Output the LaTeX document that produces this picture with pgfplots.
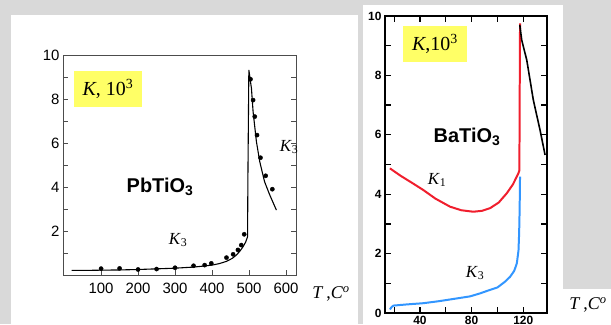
\documentclass[border=0pt]{standalone}
\usepackage{pgfplots}
\pgfplotsset{compat=1.18}
\usepackage{fontspec}
\setmainfont{Liberation Serif}
\setsansfont{Liberation Sans}
\definecolor{bg}{RGB}{217,217,217}
\definecolor{ylw}{RGB}{255,255,102}
\definecolor{kred}{RGB}{240,30,45}
\definecolor{kblue}{RGB}{50,150,255}
\newcommand{\TC}{\textit{T}\,,\textit{C}\textsuperscript{\textit{o}}}
\begin{document}
\begin{tikzpicture}[x=1bp,y=1bp]
\useasboundingbox (0,0) rectangle (611,324);
\clip (0,0) rectangle (611,324);
\fill[bg] (0,0) rectangle (611,324);
\fill[white] (11,0) rectangle (358,309);
\fill[white] (363,0) rectangle (563,319);
\fill[white] (557,0) rectangle (611,35);

% ---------- left panel: PbTiO3 ----------
\begin{axis}[at={(63bp,49bp)}, anchor=south west, scale only axis,
  width=233bp, height=220bp,
  xmin=-3, xmax=627, ymin=0, ymax=10,
  axis line style={line width=0.7pt, black!70},
  tick align=inside, xtick pos=left, ytick pos=both,
  xtick={100,200,300,400,500,600}, xticklabels={100,200,300,400,500,600},
  ytick={2,4,6,8,10}, yticklabels={2,4,6,8,10},
  minor ytick={1,3,5,7,9},
  major tick length=5bp, minor tick length=5bp,
  every tick/.style={black!70, line width=0.6pt},
  xticklabel style={font=\sffamily\fontsize{15}{15}\selectfont, yshift=-5bp},
  yticklabel style={font=\sffamily\fontsize{15}{15}\selectfont},
  clip=false]
\addplot[black, line width=1.1pt] coordinates {
(20,0.21) (60,0.21) (100,0.22) (150,0.23) (200,0.25) (250,0.28) (300,0.31)
(350,0.36) (380,0.41) (403,0.46) (420,0.52) (439,0.62) (455,0.76) (466,0.91)
(476,1.1) (484,1.29) (491,1.5) (496,1.74) (497,4.5) (499.5,9.32)
(506.5,8.49) (511,7.42) (520,6.06) (529,5.15) (542,4.24) (556,3.64) (574,2.95)};
\addplot[only marks, mark=*, mark size=2.1bp, black] coordinates {
(100,0.29) (150,0.3) (200,0.25) (250,0.27) (300,0.33) (350,0.42) (380,0.45)
(398,0.53) (439,0.79) (457,0.94) (470,1.14) (479,1.36) (487,1.85)
(504,8.9) (511,7.95) (515.5,7.2) (521.6,6.36) (531,5.33) (545,4.51) (563,3.9)};
\end{axis}
\node[fill=ylw, minimum width=68bp, minimum height=36bp, inner sep=0pt,
  font=\fontsize{20}{20}\selectfont] at (108,235) {\textit{K}, 10\textsuperscript{3}};
\node[font=\sffamily\bfseries\fontsize{20}{20}\selectfont] at (160,137) {PbTiO\textsubscript{3}};
\node[font=\fontsize{17}{17}\selectfont] at (178,84) {\textit{K}\textsubscript{3}};
\node[font=\fontsize{17}{17}\selectfont] at (289,177) {\textit{K}\textsubscript{3}};
\node[font=\fontsize{18}{18}\selectfont] at (331,30) {\TC};

% ---------- right panel: BaTiO3 ----------
\fill[white] (363,0) rectangle (563,319);
\begin{axis}[at={(385bp,11bp)}, anchor=south west, scale only axis,
  width=162bp, height=297bp,
  xmin=12.9, xmax=138.4, ymin=0, ymax=10,
  axis line style={line width=1.4pt, black},
  tick align=inside, xtick pos=both, ytick pos=both,
  xtick={20,40,60,80,100,120}, xticklabels={,40,,80,,120},
  ytick={0,2,4,6,8,10}, yticklabels={0,2,4,6,8,10},
  minor ytick={1,3,5,7,9},
  major tick length=6bp, minor tick length=6bp,
  every tick/.style={black, line width=1.3pt},
  xticklabel style={font=\sffamily\bfseries\fontsize{12}{12}\selectfont},
  yticklabel style={font=\sffamily\bfseries\fontsize{12}{12}\selectfont},
  clip=false]
\addplot[kred, line width=2pt] coordinates {
(16.7,4.87) (25,4.62) (35,4.35) (42.6,4.14) (52,3.85) (63.3,3.58) (72,3.46)
(81.3,3.41) (88,3.44) (94.3,3.53) (101,3.72) (107.2,4.03) (112,4.33)
(116.2,4.70) (117,4.8) (117.2,7) (117.5,9.75)};
\addplot[black, line width=1.6pt] coordinates {
(117.3,9.7) (118.8,9.19) (122.7,8.52) (127.8,7.17) (133,6.16) (136.9,5.32)};
\addplot[kblue, line width=2pt] coordinates {
(16.7,0.12) (18,0.2) (19.5,0.25) (30,0.29) (42.6,0.33) (55,0.4) (68.4,0.49)
(78.8,0.56) (86.5,0.66) (93,0.76) (100,0.86) (106,1.06) (109.8,1.22)
(113,1.42) (115,1.67) (116.3,2.1) (116.8,2.68) (117.2,3.5) (117.5,4.59)};
\end{axis}
\node[fill=ylw, minimum width=64bp, minimum height=36bp, inner sep=0pt,
  font=\fontsize{20}{20}\selectfont] at (435,280) {\textit{K},10\textsuperscript{3}};
\node[font=\sffamily\bfseries\fontsize{20}{20}\selectfont] at (467,187) {BaTiO\textsubscript{3}};
\node[font=\fontsize{17}{17}\selectfont] at (437,144) {\textit{K}\textsubscript{1}};
\node[font=\fontsize{17}{17}\selectfont] at (475,51) {\textit{K}\textsubscript{3}};
\node[font=\fontsize{18}{18}\selectfont] at (588,19) {\TC};
\end{tikzpicture}
\end{document}
